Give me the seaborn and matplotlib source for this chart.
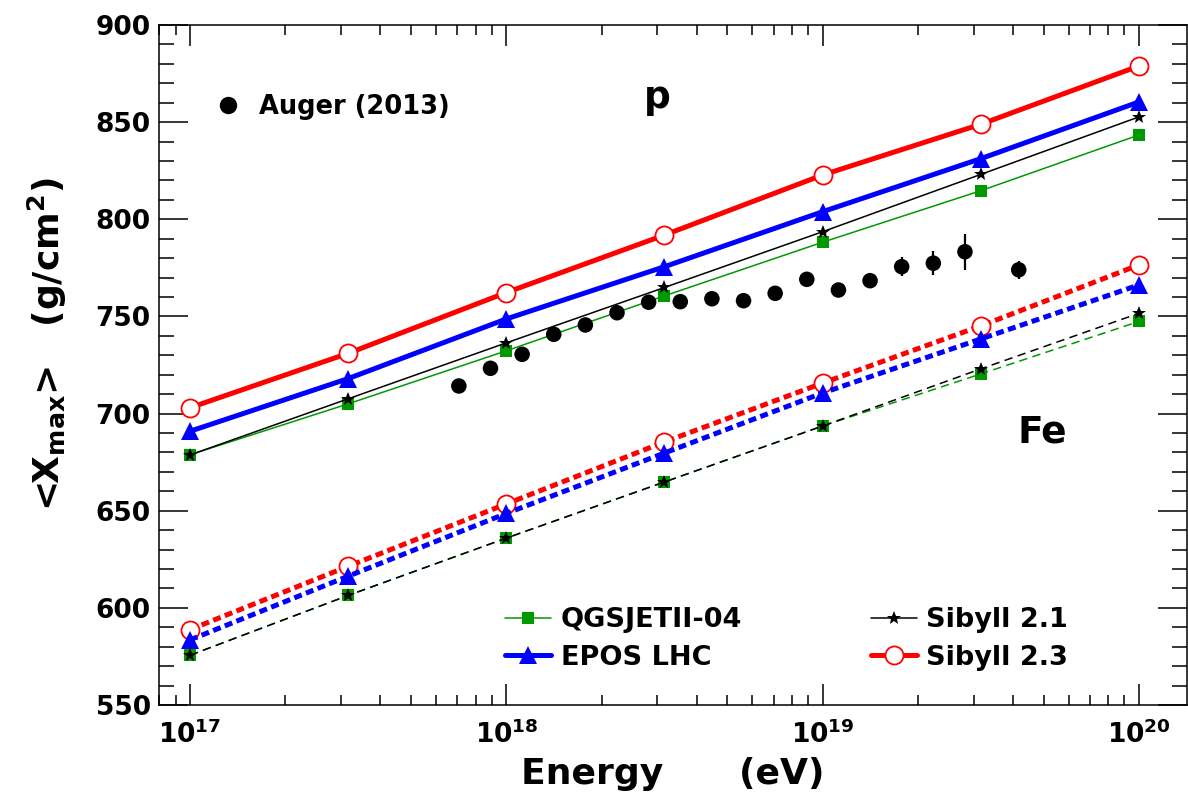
import numpy as np
import pandas as pd
import matplotlib
matplotlib.use("Agg")
import matplotlib.pyplot as plt
import seaborn as sns
from matplotlib.ticker import LogLocator, MultipleLocator, FuncFormatter, NullFormatter
from matplotlib.lines import Line2D

# ---- model predictions: log10(E/eV) grid ----
log_energy = [17.0, 17.5, 18.0, 18.5, 19.0, 19.5, 20.0]

# proton primaries
p_qgsjet = [678.8, 705.0, 732.3, 760.6, 788.2, 814.7, 843.4]
p_epos = [690.9, 718.0, 748.7, 775.6, 803.9, 831.2, 860.4]
p_sibyll21 = [678.7, 707.6, 736.4, 764.9, 793.6, 823.1, 852.7]
p_sibyll23 = [703.0, 731.0, 762.3, 791.9, 822.8, 848.9, 878.9]

# iron primaries
fe_qgsjet = [575.6, 606.4, 635.9, 664.8, 693.6, 720.4, 747.4]
fe_epos = [583.5, 616.3, 648.6, 679.7, 710.6, 738.4, 766.2]
fe_sibyll21 = [575.6, 606.4, 635.9, 664.8, 693.6, 723.0, 751.6]
fe_sibyll23 = [588.8, 621.4, 653.5, 685.4, 715.7, 745.1, 776.5]

# ---- Auger (2013) measurements ----
auger_log_energy = [17.85, 17.95, 18.05, 18.15, 18.25, 18.35, 18.45, 18.55, 18.65,
                    18.75, 18.85, 18.95, 19.05, 19.15, 19.25, 19.35, 19.45, 19.62]
auger_xmax = [714.2, 723.3, 730.5, 740.8, 745.6, 751.9, 757.3, 757.6, 759.1,
              758.1, 761.9, 769.1, 763.6, 768.4, 775.6, 777.4, 783.3, 774.0]
auger_err = [1.5, 1.5, 1.5, 1.5, 1.5, 1.5, 1.5, 1.5, 2.0,
             2.0, 2.0, 2.5, 3.0, 3.5, 4.8, 6.3, 9.2, 4.7]

model_names = ["QGSJETII-04", "EPOS LHC", "Sibyll 2.1", "Sibyll 2.3"]

sns.set_theme(style="ticks")
plt.rcParams["font.family"] = ["DejaVu Sans"]
plt.rcParams["font.weight"] = "bold"
plt.rcParams["mathtext.fontset"] = "dejavusans"
for key in ["text.color", "axes.labelcolor", "xtick.color", "ytick.color",
            "axes.edgecolor"]:
    plt.rcParams[key] = "black"

energy = [10 ** v for v in log_energy]
auger_energy = [10 ** v for v in auger_log_energy]

fig = plt.figure(figsize=(11.88, 7.95), dpi=100)
ax = fig.add_axes([159 / 1188, 1 - 705 / 795, 1028 / 1188, 680 / 795])
ax.set_xscale("log")

styles = {
    "Sibyll 2.3": dict(color="#ff0000", marker="o", lw=3.6, ms=13, mfc="white",
                       mec="#ff0000", mew=1.3),
    "EPOS LHC": dict(color="#0000ff", marker="^", lw=3.6, ms=13, mfc="#0000ff",
                     mec="#0000ff", mew=0),
    "QGSJETII-04": dict(color="#009900", marker="s", lw=1.1, ms=8.5, mfc="#009900",
                        mec="#009900", mew=0),
    "Sibyll 2.1": dict(color="black", marker="*", lw=1.1, ms=10, mfc="black",
                       mec="black", mew=0),
}
proton = {"QGSJETII-04": p_qgsjet, "EPOS LHC": p_epos,
          "Sibyll 2.1": p_sibyll21, "Sibyll 2.3": p_sibyll23}
iron = {"QGSJETII-04": fe_qgsjet, "EPOS LHC": fe_epos,
        "Sibyll 2.1": fe_sibyll21, "Sibyll 2.3": fe_sibyll23}
fe_dash = {"Sibyll 2.3": (0, (1.6, 0.9)), "EPOS LHC": (0, (1.6, 0.9)),
           "QGSJETII-04": (0, (5.5, 3.5)), "Sibyll 2.1": (0, (5.5, 3.5))}

draw_order = ["Sibyll 2.3", "EPOS LHC", "QGSJETII-04", "Sibyll 2.1"]
for name in draw_order:
    st = styles[name]
    df_p = pd.DataFrame({"E": energy, "Xmax": proton[name]})
    sns.lineplot(data=df_p, x="E", y="Xmax", ax=ax, color=st["color"],
                 linewidth=st["lw"], marker=st["marker"], markersize=st["ms"],
                 markerfacecolor=st["mfc"], markeredgecolor=st["mec"],
                 markeredgewidth=st["mew"], linestyle="-")
    df_fe = pd.DataFrame({"E": energy, "Xmax": iron[name]})
    sns.lineplot(data=df_fe, x="E", y="Xmax", ax=ax, color=st["color"],
                 linewidth=st["lw"], marker=st["marker"], markersize=st["ms"],
                 markerfacecolor=st["mfc"], markeredgecolor=st["mec"],
                 markeredgewidth=st["mew"], linestyle=fe_dash[name])

# Auger data with statistical error bars
ax.errorbar(auger_energy, auger_xmax, yerr=auger_err, fmt="none",
            ecolor="black", elinewidth=1.6, capsize=0, zorder=5)
sns.scatterplot(x=auger_energy, y=auger_xmax, ax=ax, color="black", s=125,
                edgecolor="none", zorder=6)

# ---- axes ----
ax.set_xlim(10 ** 16.902, 10 ** 20.152)
ax.set_ylim(550, 900)
ax.xaxis.set_major_locator(LogLocator(base=10, numticks=10))
ax.xaxis.set_minor_locator(LogLocator(base=10, subs=np.arange(2, 10), numticks=20))
ax.xaxis.set_minor_formatter(NullFormatter())
ax.xaxis.set_major_formatter(FuncFormatter(
    lambda v, pos: r"$\mathbf{10^{%d}}$" % int(round(np.log10(v)))))
ax.yaxis.set_major_locator(MultipleLocator(50))
ax.yaxis.set_minor_locator(MultipleLocator(10))

ax.tick_params(axis="both", which="both", direction="in", top=True, right=True,
               width=1.1, color="black", labelcolor="black")
ax.tick_params(axis="y", which="major", length=21, labelsize=19, pad=6)
ax.tick_params(axis="y", which="minor", length=11)
ax.tick_params(axis="x", which="major", length=15, labelsize=19, pad=11)
ax.tick_params(axis="x", which="minor", length=7.5)
for lab in ax.get_yticklabels():
    lab.set_fontweight("bold")
for sp in ax.spines.values():
    sp.set_linewidth(1.1)
    sp.set_color("black")
ax.grid(False)

ax.set_xlabel("Energy      (eV)", fontsize=26, fontweight="bold", va="top")
ax.xaxis.set_label_coords(0.5, -0.077)
ax.set_ylabel(r"<X$_{\mathbf{max}}$>   (g/cm$^{\mathbf{2}}$)", fontsize=26,
              fontweight="bold")
ax.yaxis.set_label_coords(-0.088, 0.53)

ax.text(10 ** 18.476, 862.4, "p", fontsize=27, fontweight="bold",
        ha="center", va="center")
ax.text(10 ** 19.696, 690.5, "Fe", fontsize=27, fontweight="bold",
        ha="center", va="center")

# ---- legends ----
model_handles = []
for name in model_names:
    st = styles[name]
    model_handles.append(Line2D([], [], color=st["color"], lw=st["lw"],
                                marker=st["marker"], ms=st["ms"], mfc=st["mfc"],
                                mec=st["mec"], mew=st["mew"]))
leg_models = ax.legend(model_handles, model_names, ncol=2, frameon=False,
                       loc="center left", bbox_to_anchor=(0.3366, 0.097),
                       borderaxespad=0, borderpad=0, handlelength=1.7,
                       handletextpad=0.35, columnspacing=4.75, labelspacing=0.42,
                       prop={"size": 19.5, "weight": "bold"})
ax.add_artist(leg_models)

auger_handle = Line2D([], [], ls="none", marker="o", color="black", ms=11.5)
ax.legend([auger_handle], ["Auger (2013)"], frameon=False, loc="center left",
          bbox_to_anchor=(0.055, 0.879), borderaxespad=0, borderpad=0,
          handlelength=1.0, handletextpad=0.7,
          prop={"size": 18.5, "weight": "bold"})

fig.savefig("out.png", dpi=100)
